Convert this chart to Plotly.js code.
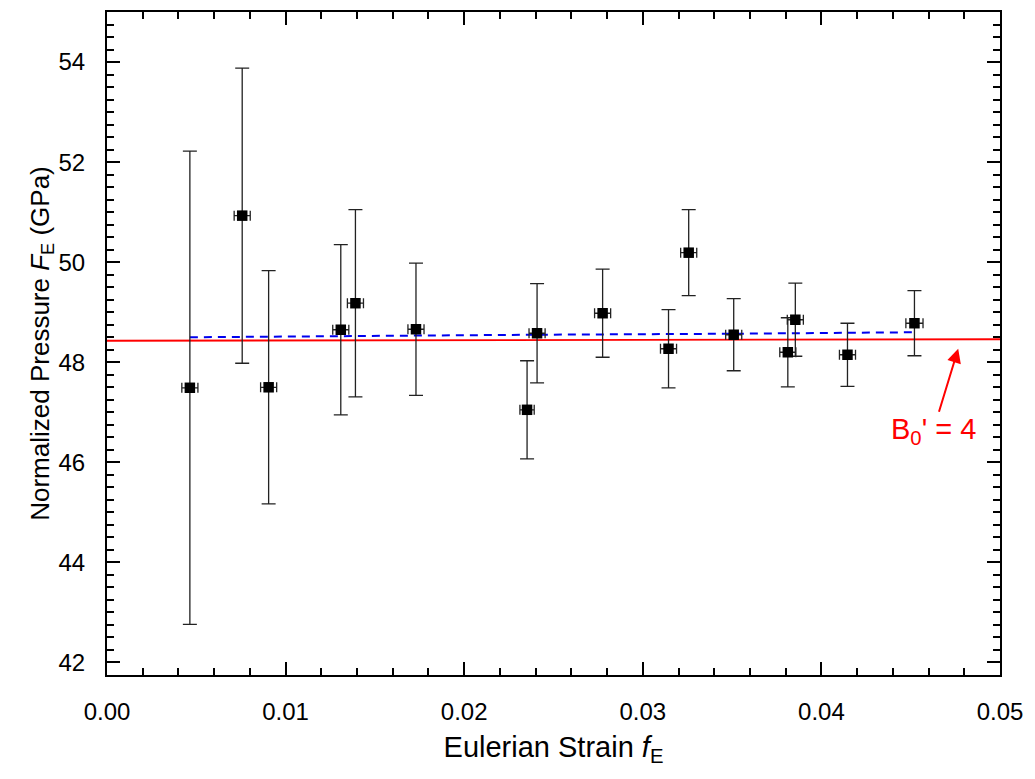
<!DOCTYPE html>
<html>
<head>
<meta charset="utf-8">
<script src="https://cdn.plot.ly/plotly-3.0.1.min.js"></script>
<style>html,body{margin:0;padding:0;background:#fff;}#plot{width:1035px;height:779px;}</style>
</head>
<body>
<div id="plot"></div>
<script>
// Measured data points
const strainF = [0.00464, 0.00757, 0.00905, 0.01309, 0.01391, 0.01730, 0.02352, 0.02408, 0.02775, 0.03144, 0.03257, 0.03509, 0.03812, 0.03854, 0.04146, 0.04521];
const pressureF = [47.49, 50.93, 47.50, 48.65, 49.18, 48.66, 47.05, 48.58, 48.98, 48.27, 50.19, 48.55, 48.20, 48.85, 48.15, 48.78];
const pressureErr = [4.73, 2.95, 2.33, 1.70, 1.87, 1.32, 0.98, 0.99, 0.88, 0.78, 0.86, 0.72, 0.69, 0.73, 0.63, 0.65];
const strainErr = [0.00045, 0.00045, 0.00045, 0.00045, 0.00045, 0.00045, 0.00040, 0.00045, 0.00045, 0.00045, 0.00045, 0.00045, 0.00045, 0.00045, 0.00045, 0.00048];

// Fit lines
const fitFreeX = [0.00464, 0.0150, 0.0240, 0.0350, 0.0413, 0.0452];
const fitFreeY = [48.50, 48.53, 48.55, 48.57, 48.58, 48.60];
const fitB4X = [0.0, 0.05];
const fitB4Y = [48.43, 48.46];

// Annotation anchor values (arrow head and label centre)
const arrowHead = [0.04766, 48.27];
const labelPos = [0.04625, 46.62];

const xTicks = [0, 0.01, 0.02, 0.03, 0.04, 0.05];
const yTicks = [42, 44, 46, 48, 50, 52, 54];

const traces = [
  {
    x: fitB4X, y: fitB4Y, type: 'scatter', mode: 'lines',
    line: {color: '#ff0000', width: 1.8}, hoverinfo: 'skip'
  },
  {
    x: fitFreeX, y: fitFreeY, type: 'scatter', mode: 'lines',
    line: {color: '#0000ee', width: 2, dash: '8px,6px'}, hoverinfo: 'skip'
  },
  {
    x: strainF, y: pressureF, type: 'scatter', mode: 'markers',
    marker: {symbol: 'square', size: 10.5, color: '#000000'},
    error_y: {type: 'data', array: pressureErr, visible: true, color: '#222222', thickness: 1.3, width: 7},
    error_x: {type: 'data', array: strainErr, visible: true, color: '#222222', thickness: 1.3, width: 5}
  }
];

const fam = 'Liberation Sans, Arial, sans-serif';
const axisFont = {family: fam, size: 24, color: '#000'};

const layout = {
  width: 1035, height: 779,
  margin: {l: 107, r: 35, t: 12, b: 104},
  paper_bgcolor: '#fff', plot_bgcolor: '#fff',
  showlegend: false,
  xaxis: {
    range: [0, 0.05],
    tickvals: xTicks,
    ticktext: xTicks.map(v => v.toFixed(2)),
    ticks: 'inside', ticklen: 13, tickwidth: 2, tickcolor: '#000',
    minor: {ticks: 'inside', ticklen: 7, tickwidth: 2, tickcolor: '#000', dtick: 0.002, tick0: 0, showgrid: false},
    showline: true, linewidth: 2, linecolor: '#000', mirror: 'allticks',
    showgrid: false, zeroline: false,
    tickfont: axisFont, ticklabelstandoff: 14,
    title: {text: 'Eulerian Strain <i>f</i><sub>E</sub>', font: {family: fam, size: 29, color: '#000'}, standoff: 13}
  },
  yaxis: {
    range: [41.75, 55],
    tickvals: yTicks,
    ticktext: yTicks.map(String),
    ticks: 'inside', ticklen: 13, tickwidth: 2, tickcolor: '#000',
    minor: {ticks: 'inside', ticklen: 7, tickwidth: 2, tickcolor: '#000', dtick: 0.25, tick0: 42, showgrid: false},
    showline: true, linewidth: 2, linecolor: '#000', mirror: 'allticks',
    showgrid: false, zeroline: false,
    tickfont: axisFont, ticklabelstandoff: 15,
    title: {text: 'Normalized Pressure <i>F</i><sub>E</sub> (GPa)', font: {family: fam, size: 26, color: '#000'}, standoff: 0}
  },
  annotations: [
    {
      x: arrowHead[0], y: arrowHead[1], xref: 'x', yref: 'y',
      ax: labelPos[0], ay: labelPos[1], axref: 'x', ayref: 'y',
      text: "B<sub>0</sub>' = 4", showarrow: true,
      arrowhead: 2, arrowsize: 1.4, arrowwidth: 2, arrowcolor: '#ff0000',
      font: {family: fam, size: 29, color: '#ff0000'}
    }
  ]
};

Plotly.newPlot('plot', traces, layout, {displayModeBar: false, staticPlot: true});
</script>
</body>
</html>
